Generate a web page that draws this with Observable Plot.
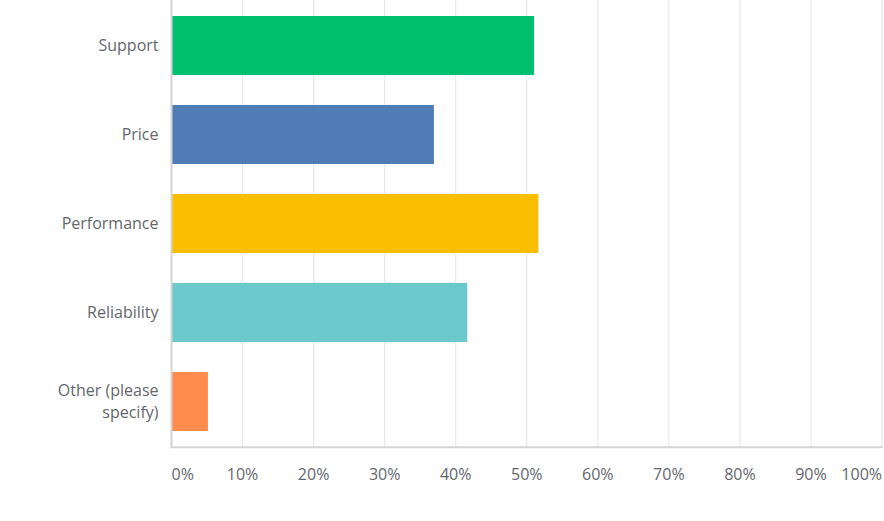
<!DOCTYPE html>
<html>
<head>
<meta charset="utf-8">
<script src="https://cdn.jsdelivr.net/npm/d3@7"></script>
<script src="https://cdn.jsdelivr.net/npm/@observablehq/plot@0.6"></script>
<style>
  html, body { margin: 0; padding: 0; background: #fff; }
  #chart svg { display: block; }
</style>
</head>
<body>
<div id="chart"></div>
<script>
const categories = ["Support", "Price", "Performance", "Reliability", "Other (please specify)"];
const labels = ["Support", "Price", "Performance", "Reliability", "Other (please\nspecify)"];
const values = [51.1, 37.0, 51.7, 41.7, 5.2];
const colors = ["#00bf6f", "#507cb6", "#f9be00", "#6bc8cd", "#ff8b4f"];
const xTicks = [0, 10, 20, 30, 40, 50, 60, 70, 80, 90, 100];

const data = categories.map((c, i) => ({category: c, value: values[i]}));
const labelOf = new Map(categories.map((c, i) => [c, labels[i]]));
const pct = d => d + "%";

const chart = Plot.plot({
  width: 884,
  height: 521,
  marginLeft: 171,
  marginRight: 2.5,
  marginTop: 0,
  marginBottom: 74.3,
  style: {fontFamily: "'Open Sans', sans-serif", fontSize: "16px", color: "#63676d", background: "#fff"},
  x: {domain: [0, 100], label: null},
  y: {domain: categories, paddingInner: 0.34, paddingOuter: 0.168, label: null},
  color: {domain: categories, range: colors},
  marks: [
    Plot.gridX(xTicks.slice(1), {stroke: "#e9e9e9", strokeOpacity: 1, strokeWidth: 1.2}),
    Plot.barX(data, {x: "value", y: "category", fill: "category"}),
    Plot.ruleX([0], {stroke: "#d4d4d4", strokeWidth: 2}),
    Plot.frame({anchor: "bottom", stroke: "#d4d4d4", strokeWidth: 2}),
    Plot.axisX([0], {tickSize: 0, tickPadding: 21, tickFormat: pct, textAnchor: "start", fill: "#63676d", label: null}),
    Plot.axisX(xTicks.slice(1, -1), {tickSize: 0, tickPadding: 21, tickFormat: pct, fill: "#63676d", label: null}),
    Plot.axisX([100], {tickSize: 0, tickPadding: 21, tickFormat: pct, textAnchor: "end", fill: "#63676d", label: null}),
    Plot.axisY({tickSize: 0, tickPadding: 13, tickFormat: d => labelOf.get(d), lineHeight: 1.35, dy: -2, fill: "#63676d", label: null})
  ]
});
document.getElementById("chart").appendChild(chart);
</script>
</body>
</html>
